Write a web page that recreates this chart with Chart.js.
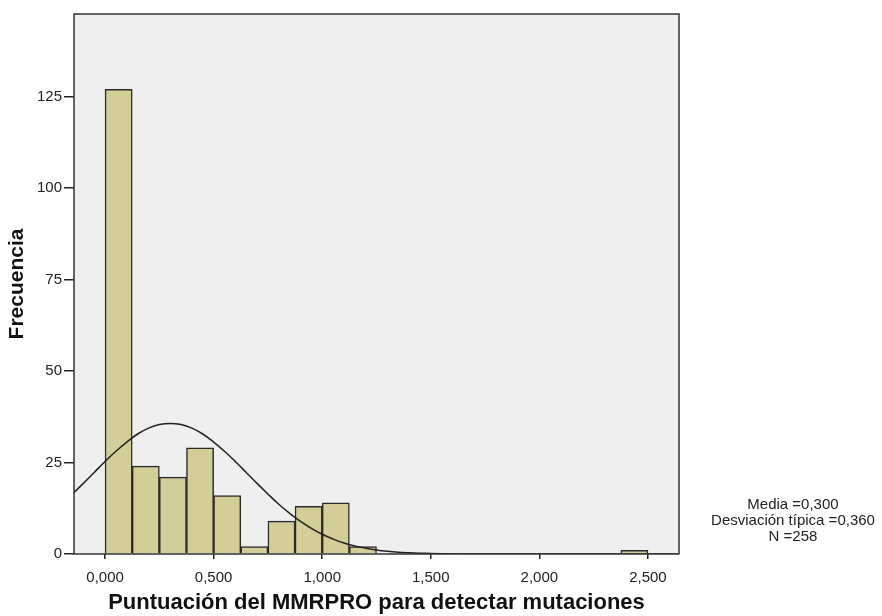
<!DOCTYPE html>
<html>
<head>
<meta charset="utf-8">
<script src="https://cdn.jsdelivr.net/npm/chart.js@4"></script>
<style>
  html,body{margin:0;padding:0;background:#fff;}
  #wrap{position:relative;width:882px;height:616px;}
  #stats{position:absolute;left:703px;top:496px;width:180px;text-align:center;font-family:"Liberation Sans",Arial,sans-serif;font-size:15px;line-height:16px;color:#222;}
</style>
</head>
<body>
<div id="wrap">
<canvas id="c" width="882" height="616"></canvas>
<div id="stats">Media =0,300<br>Desviación típica =0,360<br>N =258</div>
</div>
<script>
// Histogram bins (lower edges), width 0.125
const binStarts = [0,0.125,0.25,0.375,0.5,0.625,0.75,0.875,1.0,1.125,1.25,1.375,1.5,1.625,1.75,1.875,2.0,2.125,2.25,2.375];
const binCounts = [127,24,21,29,16,2,9,13,14,2,0,0,0,0,0,0,0,0,0,1];
const binWidth = 0.125;
// Fitted normal curve
const curveX = [-0.15,-0.10,-0.05,0.00,0.05,0.10,0.15,0.20,0.25,0.30,0.35,0.40,0.45,0.50,0.55,0.60,0.65,0.70,0.75,0.80,0.85,0.90,0.95,1.00,1.05,1.10,1.15,1.20,1.25,1.30,1.35,1.40,1.45,1.50,1.60,1.70,1.80,2.00,2.65];
const curveY = [16.4,19.3,22.3,25.3,28.1,30.6,32.8,34.4,35.4,35.7,35.4,34.4,32.8,30.6,28.1,25.3,22.3,19.3,16.4,13.6,11.1,8.9,7.0,5.4,4.1,3.0,2.2,1.6,1.1,0.75,0.5,0.34,0.22,0.14,0.05,0.02,0.01,0,0];
const xTicks = [0,0.5,1.0,1.5,2.0,2.5];
const xTickLabels = ["0,000","0,500","1,000","1,500","2,000","2,500"];
const yTicks = [0,25,50,75,100,125];

const barData = binStarts.map((s,i)=>({x:s+binWidth/2, y: binCounts[i]===0?null:binCounts[i]}));
const lineData = curveX.map((x,i)=>({x:x,y:curveY[i]}));

const plotBg = {
  id:'plotBg',
  beforeDraw(chart){
    const {ctx, chartArea:a} = chart;
    ctx.save();
    ctx.fillStyle='#efefef';
    ctx.fillRect(a.left,a.top,a.right-a.left,a.bottom-a.top);
    ctx.restore();
  },
  afterDraw(chart){
    const {ctx, chartArea:a} = chart;
    ctx.save();
    ctx.strokeStyle='#333';
    ctx.lineWidth=1.5;
    ctx.strokeRect(a.left,a.top,a.right-a.left,a.bottom-a.top);
    ctx.restore();
  }
};

Chart.defaults.font.family = '"Liberation Sans", Arial, sans-serif';
Chart.defaults.color = '#222';

new Chart(document.getElementById('c'), {
  type:'bar',
  data:{
    datasets:[
      {type:'line', data:lineData, borderColor:'#222', borderWidth:1.5, pointRadius:0, tension:0.4, fill:false, order:0},
      {type:'bar', data:barData, backgroundColor:'#d3ce98', borderColor:'#2a2a2a', borderWidth:1.5, barPercentage:1, categoryPercentage:1, order:1}
    ]
  },
  options:{
    responsive:false,
    animation:false,
    layout:{padding:{left:0,top:14,right:203,bottom:0}},
    plugins:{legend:{display:false}, tooltip:{enabled:false}},
    scales:{
      x:{
        type:'linear', min:-0.143, max:2.643, offset:false,
        afterBuildTicks(s){ s.ticks = xTicks.map(v=>({value:v})); },
        afterFit(s){ s.height = 62; },
        ticks:{ callback:(v)=>{const i=xTicks.indexOf(v); return i>=0?xTickLabels[i]:'';}, font:{size:15}, padding:10, maxRotation:0, autoSkip:false, color:'#222'},
        grid:{drawOnChartArea:false, offset:false, tickLength:5, color:'#222', lineWidth:1.5},
        border:{display:false},
        title:{display:true, text:'Puntuación del MMRPRO para detectar mutaciones', font:{size:22, weight:'bold'}, color:'#111', padding:{top:0,bottom:0}}
      },
      y:{
        type:'linear', min:0, max:147.6,
        afterBuildTicks(s){ s.ticks = yTicks.map(v=>({value:v})); },
        afterFit(s){ s.width = 74; },
        ticks:{ font:{size:15}, padding:2, color:'#222'},
        grid:{drawOnChartArea:false, tickLength:10, color:'#222', lineWidth:1.5},
        border:{display:false},
        title:{display:true, text:'Frecuencia', font:{size:21, weight:'bold'}, color:'#111', padding:{top:5,bottom:0}}
      }
    }
  },
  plugins:[plotBg]
});
</script>
</body>
</html>
